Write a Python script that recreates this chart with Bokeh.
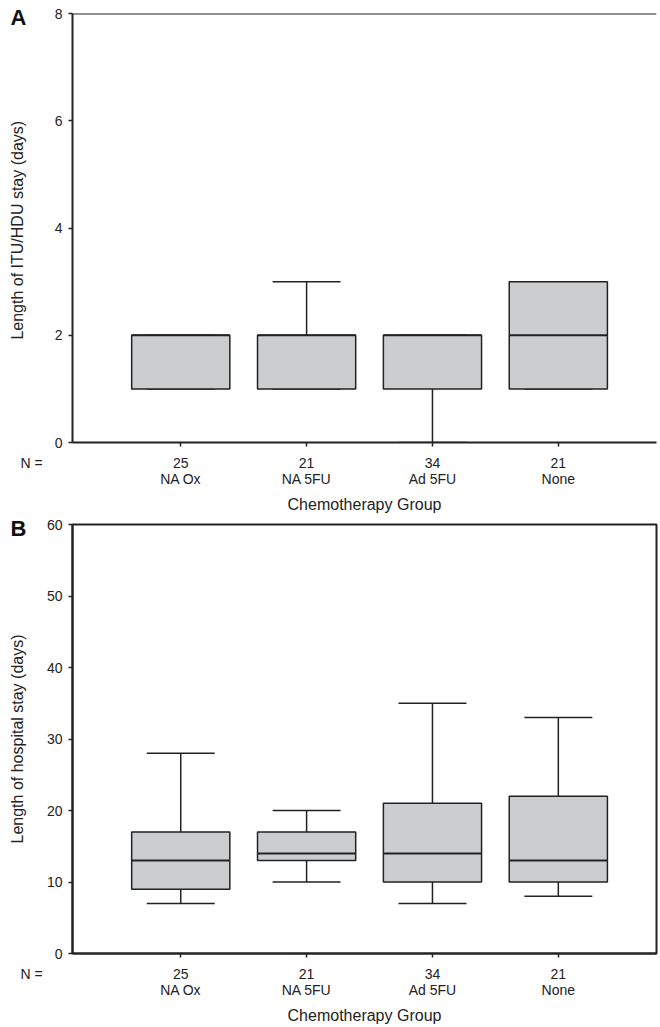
from bokeh.plotting import figure
from bokeh.layouts import column
from bokeh.models import ColumnDataSource, FixedTicker, Span, Range1d, Title
from bokeh.embed import file_html
from bokeh.resources import INLINE

groups = ["NA Ox", "NA 5FU", "Ad 5FU", "None"]
n_counts = [25, 21, 34, 21]
positions = [1, 2, 3, 4]

itu_min = [1, 1, 0, 1]
itu_q1 = [1, 1, 1, 1]
itu_med = [2, 2, 2, 2]
itu_q3 = [2, 2, 2, 3]
itu_max = [2, 3, 2, 3]

hosp_min = [7, 10, 7, 8]
hosp_q1 = [9, 13, 10, 10]
hosp_med = [13, 14, 14, 13]
hosp_q3 = [17, 17, 21, 22]
hosp_max = [28, 20, 35, 33]

itu_ticks = [0, 2, 4, 6, 8]
hosp_ticks = [0, 10, 20, 30, 40, 50, 60]

FONT = "Liberation Sans"
TXT = "#222222"
LINE = "#222222"
BOX_W = 0.78
CAP_W = 0.54


def make_panel(letter, ylabel, ymax, yticks, mn, q1, md, q3, mx, height, top, bottom, outline, ylab_standoff):
    p = figure(width=658, height=height, output_backend="svg", toolbar_location=None,
               x_range=Range1d(0.14, 4.78), y_range=Range1d(0, ymax),
               min_border_left=72, min_border_right=2, min_border_top=top, min_border_bottom=bottom)
    p.grid.visible = False
    p.background_fill_color = "white"
    p.border_fill_color = "white"
    if outline:
        p.outline_line_color = LINE
        p.outline_line_width = 2
    else:
        p.outline_line_color = None
        p.add_layout(Span(location=ymax, dimension="width", line_color=LINE, line_width=2))

    src = ColumnDataSource(dict(x=positions, mn=mn, q1=q1, md=md, q3=q3, mx=mx,
                                xl=[v - BOX_W / 2 for v in positions], xr=[v + BOX_W / 2 for v in positions],
                                cl=[v - CAP_W / 2 for v in positions], cr=[v + CAP_W / 2 for v in positions]))
    p.segment(x0="x", y0="q3", x1="x", y1="mx", source=src, line_color=LINE, line_width=1.5)
    p.segment(x0="x", y0="q1", x1="x", y1="mn", source=src, line_color=LINE, line_width=1.5)
    p.segment(x0="cl", y0="mx", x1="cr", y1="mx", source=src, line_color=LINE, line_width=1.5)
    p.segment(x0="cl", y0="mn", x1="cr", y1="mn", source=src, line_color=LINE, line_width=1.5)
    p.quad(left="xl", right="xr", bottom="q1", top="q3", source=src,
           fill_color="#cccdcf", line_color=LINE, line_width=1.5)
    p.segment(x0="xl", y0="md", x1="xr", y1="md", source=src, line_color=LINE, line_width=2)

    p.xaxis.ticker = FixedTicker(ticks=positions)
    p.xaxis.major_label_overrides = {pos: f"{n}\n{g}" for pos, n, g in zip(positions, n_counts, groups)}
    p.xaxis.axis_label = "Chemotherapy Group"
    p.yaxis.ticker = FixedTicker(ticks=yticks)
    p.yaxis.axis_label = ylabel
    for ax in (p.xaxis, p.yaxis):
        ax.axis_line_color = LINE
        ax.axis_line_width = 2
        ax.major_tick_line_color = LINE
        ax.major_tick_line_width = 1.5
        ax.major_tick_in = 0
        ax.major_tick_out = 4
        ax.minor_tick_line_color = None
        ax.major_label_text_font = FONT
        ax.major_label_text_font_size = "14px"
        ax.major_label_text_color = TXT
        ax.axis_label_text_font = FONT
        ax.axis_label_text_font_size = "16px"
        ax.axis_label_text_font_style = "normal"
        ax.axis_label_text_color = TXT
    p.xaxis.major_label_text_line_height = 1.05
    p.xaxis.major_label_standoff = 8
    p.xaxis.axis_label_standoff = 6
    p.yaxis.major_label_standoff = 6
    p.yaxis.axis_label_standoff = ylab_standoff

    # panel letter, drawn as a title that hangs into the left margin
    t_letter = Title(text=letter, align="left", vertical_align="bottom", offset=-62, standoff=-33,
                     text_font=FONT, text_font_size="22px", text_font_style="bold", text_color="#111111")
    p.add_layout(t_letter, "above")
    # "N =" caption under the y axis
    t_n = Title(text="N =", align="left", vertical_align="top", offset=-52, standoff=-124,
                text_font=FONT, text_font_size="14px", text_font_style="normal", text_color=TXT)
    p.add_layout(t_n, "below")
    return p


pa = make_panel("A", "Length of  ITU/HDU stay (days)", 8, itu_ticks,
                itu_min, itu_q1, itu_med, itu_q3, itu_max, 516, 13, 74, False, 26)
pb = make_panel("B", "Length of hospital stay (days)", 60, hosp_ticks,
                hosp_min, hosp_q1, hosp_med, hosp_q3, hosp_max, 511, 8, 74, True, 18)

layout = column(pa, pb, spacing=0)
open("out.html", "w").write(file_html(layout, INLINE))
